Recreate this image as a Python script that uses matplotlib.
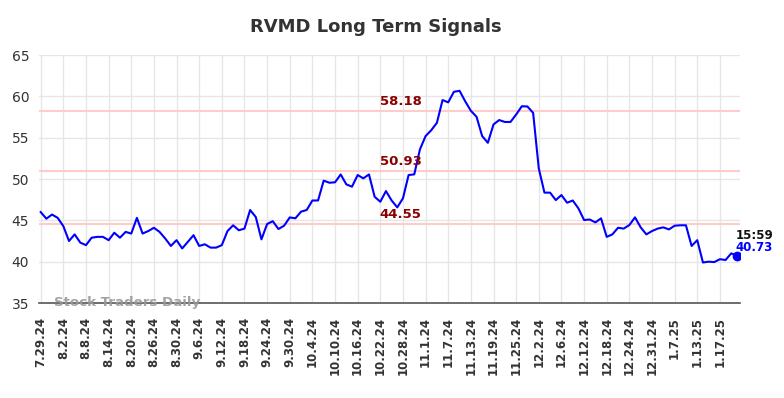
import numpy as np
import matplotlib
matplotlib.use("Agg")
import matplotlib.pyplot as plt

# RVMD close values, one per trading day (7.29.24 ... 1.23.25)
prices = [
    46.0, 45.2, 45.7, 45.3, 44.3, 42.5, 43.3, 42.3, 42.0, 42.9,
    43.0, 43.0, 42.6, 43.5, 42.9, 43.6, 43.4, 45.3, 43.4, 43.7,
    44.1, 43.6, 42.8, 41.9, 42.6, 41.6, 42.4, 43.2, 41.9, 42.1,
    41.7, 41.7, 42.0, 43.7, 44.4, 43.8, 44.0, 46.25, 45.4, 42.7,
    44.55, 44.9, 43.95, 44.35, 45.35, 45.25, 46.05, 46.25, 47.4, 47.4,
    49.8, 49.55, 49.6, 50.55, 49.35, 49.07, 50.48, 50.08, 50.55, 47.85,
    47.25, 48.54, 47.4, 46.57, 47.66, 50.48, 50.56, 53.58, 55.19, 55.9,
    56.8, 59.55, 59.27, 60.55, 60.67, 59.4, 58.25, 57.53, 55.19, 54.38,
    56.6, 57.13, 56.9, 56.9, 57.8, 58.8, 58.77, 58.0, 51.28, 48.35,
    48.35, 47.45, 48.06, 47.13, 47.4, 46.45, 45.04, 45.1, 44.75, 45.24,
    43.0, 43.3, 44.1, 44.0, 44.43, 45.36, 44.15, 43.3, 43.7, 44.0,
    44.15, 43.9, 44.35, 44.4, 44.4, 41.9, 42.6, 39.9, 40.0, 39.95,
    40.3, 40.2, 41.0, 40.73,
]
tick_labels = [
    "7.29.24", "8.2.24", "8.8.24", "8.14.24", "8.20.24", "8.26.24", "8.30.24",
    "9.6.24", "9.12.24", "9.18.24", "9.24.24", "9.30.24", "10.4.24", "10.10.24",
    "10.16.24", "10.22.24", "10.28.24", "11.1.24", "11.7.24", "11.13.24",
    "11.19.24", "11.25.24", "12.2.24", "12.6.24", "12.12.24", "12.18.24",
    "12.24.24", "12.31.24", "1.7.25", "1.13.25", "1.17.25",
]
signals = [58.18, 50.93, 44.55]
last_time = "15:59"

x = np.arange(len(prices))

fig = plt.figure(figsize=(7.84, 3.98), dpi=100)
ax = fig.add_axes([39 / 784, 1 - 303 / 398, 701 / 784, 248 / 398])

ax.plot(x, prices, color="#0000ff", lw=1.5, zorder=3)
ax.plot(x[-1], prices[-1], "o", color="#0000ff", ms=6, zorder=4)

for s in signals:
    ax.axhline(s, color="#ffcccc", lw=1.5, zorder=2)
    ax.text(63.6, s + 0.4, f"{s:.2f}", color="#8b0000", fontsize=9.5,
            fontweight="bold", ha="center", va="bottom", zorder=5)

ax.text(x[-1] - 0.2, prices[-1] + 1.6, last_time, color="#111111",
        fontsize=8.5, fontweight="bold", ha="left", va="bottom")
ax.text(x[-1] - 0.2, prices[-1] + 0.2, f"{prices[-1]:.2f}", color="#0000ff",
        fontsize=8.5, fontweight="bold", ha="left", va="bottom")

ax.text(2.3, 35.05, "Stock Traders Daily", color="#999999", fontsize=9.6,
        fontweight="bold", ha="left", va="center", alpha=0.9, zorder=5)

ax.set_xlim(-0.3, len(prices) - 0.45)
ax.set_ylim(35, 65)
ax.set_yticks(range(35, 66, 5))
ax.set_xticks(np.arange(0, 4 * len(tick_labels), 4))
ax.set_xticklabels(tick_labels, rotation=90, fontsize=8.5, color="#333333",
                   fontweight="bold")
ax.tick_params(axis="y", labelsize=10, colors="#333333", length=0, pad=7)
ax.tick_params(axis="x", length=0, pad=10)
ax.grid(True, color="#e6e6e6", lw=1)
ax.set_axisbelow(True)
for side in ["top", "right", "left"]:
    ax.spines[side].set_visible(False)
ax.spines["bottom"].set_color("#555555")
ax.spines["bottom"].set_linewidth(1.2)

fig.suptitle("RVMD Long Term Signals", x=0.479, y=0.955, fontsize=13,
             fontweight="bold", color="#333333")

fig.savefig("out.png", dpi=100)
